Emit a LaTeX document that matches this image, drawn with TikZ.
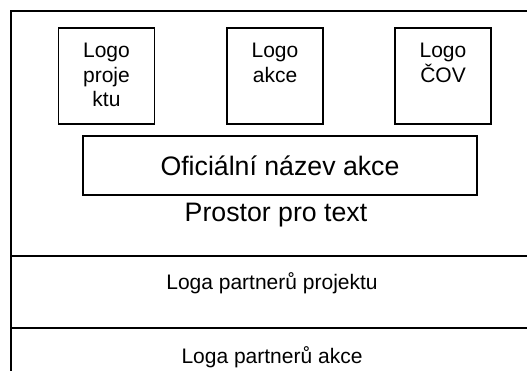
\documentclass[tikz,border=0pt]{standalone}
\usepackage{fontspec}
\setmainfont{Liberation Sans}
\begin{document}
\begin{tikzpicture}[x=1pt,y=-1pt,
  frame/.style={line width=1.7pt},
  logobox/.style={draw,line width=1.5pt,minimum width=96pt,minimum height=96pt,inner sep=0pt},
  logotext/.style={anchor=base,align=center,inner sep=0pt,font=\fontsize{21}{24.5}\selectfont},
  namebox/.style={draw,line width=1.5pt,minimum width=394pt,minimum height=59pt,inner sep=0pt,font=\fontsize{26.7}{30}\selectfont},
  bigtext/.style={anchor=base,inner sep=0pt,font=\fontsize{26.7}{30}\selectfont},
  smalltext/.style={anchor=base,inner sep=0pt,font=\fontsize{21}{24.5}\selectfont}]
\useasboundingbox (0,0) rectangle (527,371);
\clip (0,0) rectangle (527,371);
% outer frame
\coordinate (tl) at (11,11);
\coordinate (tr) at (540,11);
\coordinate (bl) at (11,390);
\coordinate (l1) at (11,256);
\coordinate (r1) at (540,256);
\coordinate (l2) at (11,328);
\coordinate (r2) at (540,328);
\draw[frame] (bl) -- (tl) -- (tr);
\draw[frame] (l1) -- (r1);
\draw[frame] (l2) -- (r2);
% logo boxes
\node[logobox] (b1) at (106.5,76) {};
\node[logobox] (b2) at (275,76) {};
\node[logobox] (b3) at (443,76) {};
\node[logotext] (t1) at (106.5,107) {Logo\\proje\\ktu};
\node[logotext] (t2) at (275,82.5) {Logo\\akce};
\node[logotext] (t3) at (443,82.5) {Logo\\ČOV};
% name
\node[namebox] (name) at (280,165.5) {Oficiální název akce};
\node[bigtext] (prostor) at (276,222) {Prostor pro text};
\node[smalltext] (pp) at (272,289) {Loga partnerů projektu};
\node[smalltext] (pa) at (272,363) {Loga partnerů akce};
\end{tikzpicture}
\end{document}
